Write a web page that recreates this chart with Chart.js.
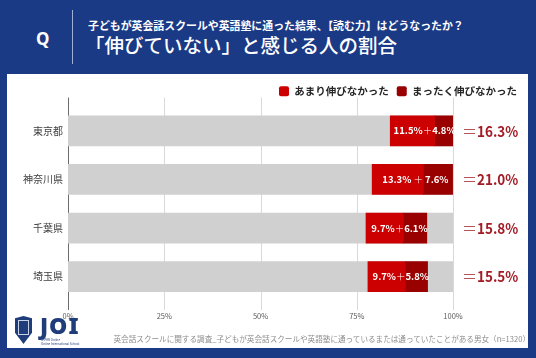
<!DOCTYPE html>
<html>
<head>
<meta charset="utf-8">
<script src="https://cdn.jsdelivr.net/npm/chart.js@4"></script>
<style>
  html, body { margin: 0; padding: 0; }
  body { width: 536px; height: 358px; background: #1b3a86; position: relative; overflow: hidden;
         font-family: 'Noto Sans CJK JP', sans-serif; }
  #q { position: absolute; left: 36px; top: 27px; color: #fff; font: bold 17px 'Noto Sans', sans-serif; }
  #sep { position: absolute; left: 72px; top: 10px; width: 1px; height: 54px; background: #9fb0d4; }
  #sub { position: absolute; left: 88px; top: 17px; color: #fff; font-size: 10.9px; font-weight: bold; white-space: nowrap; }
  #title { position: absolute; left: 85px; top: 30px; color: #fff; font-size: 19.5px; font-weight: 500; white-space: nowrap; }
  #panel { position: absolute; left: 7px; top: 74px; width: 521px; height: 274px; background: #fff; }
  #wrap { position: absolute; left: 0; top: 0; width: 521px; height: 256px; }
  #foot { position: absolute; right: -2px; top: 259px; color: #8c8c8c; font-size: 7.6px; white-space: nowrap; }
  #shield { position: absolute; left: 8px; top: 242px; width: 17px; height: 28px; background: #1f3d7a;
            clip-path: polygon(0 8%, 50% 0, 100% 8%, 100% 60%, 50% 100%, 0 60%); }
  #shield i { position: absolute; left: 3px; top: 4px; width: 11px; height: 15px; border: 1px solid #c8d2e6; box-sizing: border-box; }
  #joi { position: absolute; left: 33px; top: 235px; color: #1f3d7a; font: 900 23px 'Noto Sans', sans-serif; letter-spacing: 1px; }
  #joisub { position: absolute; left: 34px; top: 265px; color: #1f3d7a; font-size: 3px; line-height: 3.5px; white-space: nowrap; }
</style>
</head>
<body>
<div id="q">Q</div>
<div id="sep"></div>
<div id="sub">子どもが英会話スクールや英語塾に通った結果、【読む力】はどうなったか？</div>
<div id="title">「伸びていない」と感じる人の割合</div>
<div id="panel">
  <div id="wrap"><canvas id="chart"></canvas></div>
  <div id="shield"><i></i></div>
  <div id="joi">JOI</div>
  <div id="joisub">JAPAN Online<br>Online International School</div>
  <div id="foot">英会話スクールに関する調査_子どもが英会話スクールや英語塾に通っているまたは通っていたことがある男女（n=1320）</div>
</div>
<script>
const prefectures = ['東京都', '神奈川県', '千葉県', '埼玉県'];
const notMuch = [11.5, 13.3, 9.7, 9.7];     // あまり伸びなかった
const notAtAll = [4.8, 7.6, 6.1, 5.8];      // まったく伸びなかった
const totals = [16.3, 21.0, 15.8, 15.5];
const barStart = [83.7, 79.0, 77.4, 77.9];  // where the red part begins
const fullBar = [100, 100, 100, 100];
const xTicks = [0, 25, 50, 75, 100];

const RED = '#cc0000', DARK = '#990000', GRAY = '#d0d0d0';
const FONT = "'Noto Sans CJK JP', sans-serif";
Chart.defaults.font.family = FONT;

// grid lines run a little past the bars, above and below
const gridPlugin = {
    id: 'grid',
    beforeDatasetsDraw(chart) {
        const ctx = chart.ctx, a = chart.chartArea, x = chart.scales.x;
        ctx.save();
        ctx.lineWidth = 1;
        xTicks.forEach(v => {
            const px = Math.round(x.getPixelForValue(v)) + 0.5;
            ctx.strokeStyle = v === 0 ? '#6b6b6b' : '#d9d9d9';
            ctx.beginPath();
            ctx.moveTo(px, a.top - 9);
            ctx.lineTo(px, a.bottom + 9);
            ctx.stroke();
        });
        ctx.restore();
    }
};

const labelPlugin = {
    id: 'labels',
    afterDatasetsDraw(chart) {
        const ctx = chart.ctx, x = chart.scales.x, y = chart.scales.y;
        ctx.save();
        ctx.textBaseline = 'middle';
        prefectures.forEach((p, i) => {
            const cy = y.getPixelForValue(i);
            const x0 = x.getPixelForValue(barStart[i]);
            const x1 = x.getPixelForValue(barStart[i] + notMuch[i] + notAtAll[i]);
            const wide = notMuch[i] + notAtAll[i] >= 20;
            const parts = [
                [notMuch[i].toFixed(1) + '%', 'bold 9.5px ' + FONT],
                [wide ? ' ＋ ' : '＋', '300 9.5px ' + FONT],
                [notAtAll[i].toFixed(1) + '%', 'bold 9.5px ' + FONT]
            ];
            let w = 0;
            parts.forEach(pt => { ctx.font = pt[1]; w += ctx.measureText(pt[0]).width; });
            let tx = (x0 + x1) / 2 + 3 - w / 2;
            ctx.fillStyle = '#fff';
            ctx.textAlign = 'left';
            parts.forEach(pt => {
                ctx.font = pt[1];
                ctx.fillText(pt[0], tx, cy);
                tx += ctx.measureText(pt[0]).width;
            });

            // total on the right
            let rx = x.getPixelForValue(100) + 9;
            ctx.fillStyle = '#a31b25';
            ctx.font = '300 15px ' + FONT;
            ctx.fillText('＝', rx, cy);
            rx += ctx.measureText('＝').width;
            ctx.font = 'bold 15px ' + FONT;
            ctx.save();
            ctx.translate(rx, cy);
            ctx.scale(0.9, 1);
            ctx.fillText(totals[i].toFixed(1) + '%', 0, 0);
            ctx.restore();
        });
        ctx.restore();
    }
};

const ctx = document.getElementById('chart').getContext('2d');
new Chart(ctx, {
    type: 'bar',
    data: {
        labels: prefectures,
        datasets: [
            { label: 'start', data: barStart, backgroundColor: 'rgba(0,0,0,0)', stack: 'main', grouped: false },
            { label: 'あまり伸びなかった', data: notMuch, backgroundColor: RED, stack: 'main', grouped: false },
            { label: 'まったく伸びなかった', data: notAtAll, backgroundColor: DARK, stack: 'main', grouped: false },
            { label: 'bg', data: fullBar, backgroundColor: GRAY, stack: 'bg', grouped: false }
        ]
    },
    options: {
        indexAxis: 'y',
        responsive: true,
        maintainAspectRatio: false,
        animation: false,
        datasets: { bar: { barThickness: 30 } },
        layout: { padding: { top: 4, right: 3, bottom: 0, left: 0 } },
        scales: {
            x: {
                stacked: true,
                min: 0,
                max: 100,
                afterBuildTicks: s => { s.ticks = xTicks.map(v => ({ value: v })); },
                afterFit: s => { s.height = 29; },
                grid: { display: false, drawTicks: false },
                border: { display: false },
                ticks: { padding: 11, color: '#595959', font: { size: 7.5 }, callback: v => v + '%' }
            },
            y: {
                stacked: true,
                afterFit: s => { s.width = 61; },
                grid: { display: false, drawTicks: false },
                border: { display: false },
                ticks: { padding: 5, color: '#404040', font: { size: 10 } }
            },
            y2: {
                position: 'right',
                afterFit: s => { s.width = 72; },
                grid: { display: false, drawTicks: false },
                border: { display: false },
                ticks: { display: false }
            }
        },
        plugins: {
            legend: {
                position: 'top',
                align: 'end',
                labels: {
                    filter: item => item.text !== 'start' && item.text !== 'bg',
                    boxWidth: 10,
                    boxHeight: 10,
                    useBorderRadius: true,
                    borderRadius: 2,
                    padding: 8,
                    color: '#262626',
                    font: { size: 10.5, weight: 'bold' }
                }
            },
            tooltip: { enabled: false }
        }
    },
    plugins: [gridPlugin, labelPlugin]
});
</script>
</body>
</html>
